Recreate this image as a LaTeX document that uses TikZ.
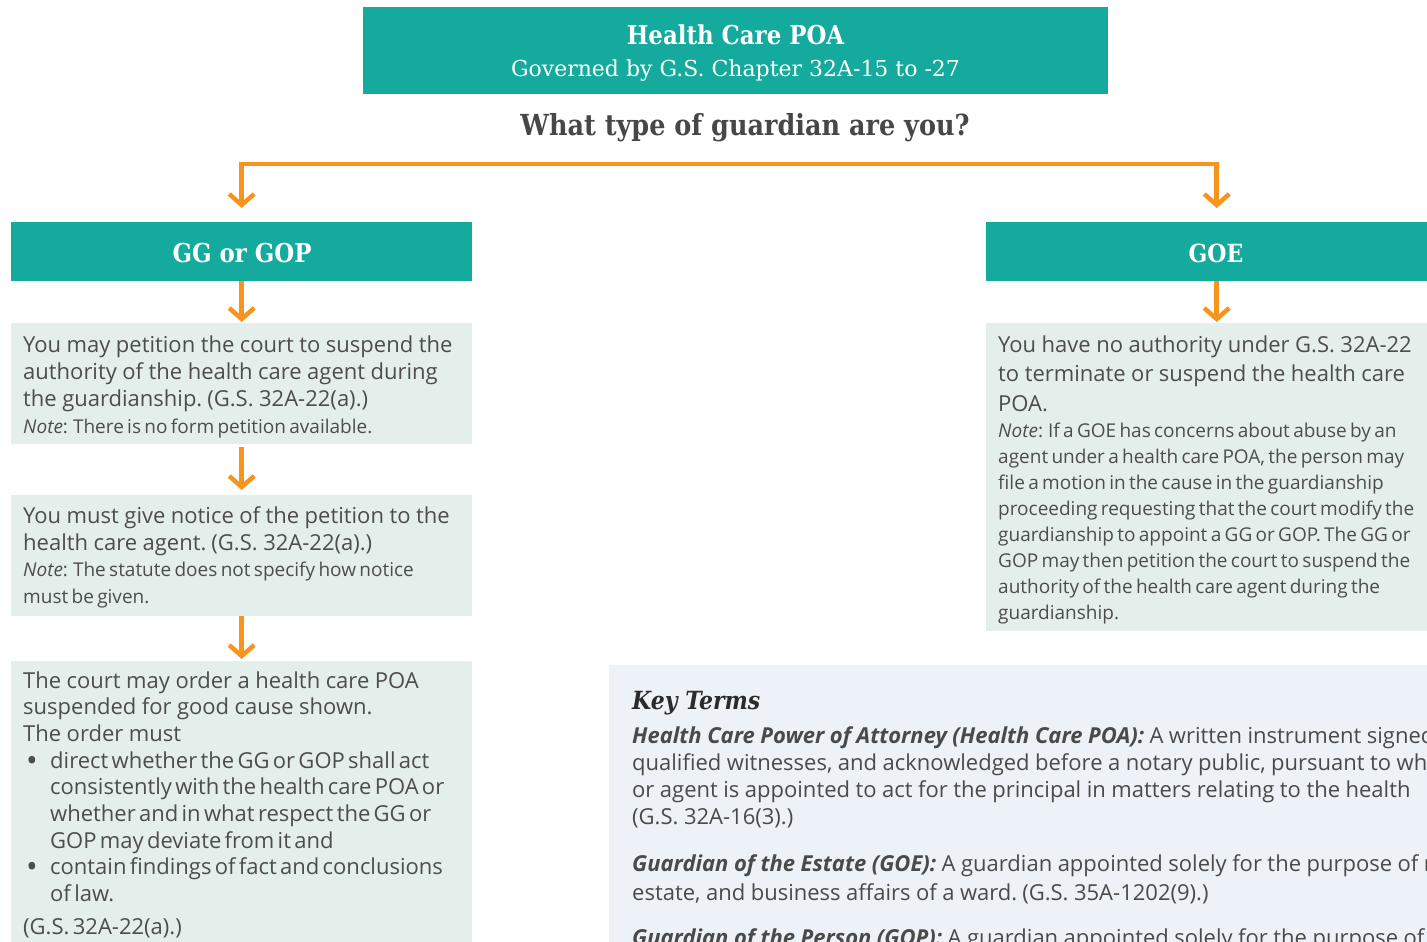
\documentclass[tikz,border=0pt]{standalone}
\usepackage{fontspec}
\setmainfont{Open Sans}
\newfontfamily\slab[FakeStretch=0.88]{DejaVu Serif}
\newfontfamily\slabreg{DejaVu Serif}
\newfontfamily\notefont{Open Sans}
\usetikzlibrary{arrows.meta}
\setlength\parindent{0pt}
\definecolor{tealhdr}{HTML}{15AA9E}
\definecolor{orng}{HTML}{F7941D}
\definecolor{boxbg}{HTML}{E4EFEC}
\definecolor{keybg}{HTML}{EDF1F8}
\definecolor{txt}{HTML}{4D4D4D}
\definecolor{qtxt}{HTML}{474747}
\definecolor{keytxt}{HTML}{4A4A4A}
\definecolor{keyhd}{HTML}{2B2B2B}
\newcommand{\wide}{\spaceskip=0.25em\relax}
\newcommand{\bigbul}{\makebox[27pt][l]{\hspace{3pt}\raisebox{-3pt}{\fontsize{31}{26.7}\selectfont •}}}
\tikzset{
  hdr/.style={fill=tealhdr, inner sep=0pt, anchor=north west},
  pale/.style={fill=boxbg, inner sep=0pt, anchor=north west},
  keybox/.style={fill=keybg, inner sep=0pt, anchor=north west},
  hdrtext/.style={text=white, inner sep=0pt, anchor=base},
  body/.style={anchor=base west, inner sep=0pt, align=left, text=txt, text width=445pt},
  keytext/.style={anchor=base west, inner sep=0pt, align=left, text=keytxt, text width=1000pt},
  arr/.style={draw=orng, line width=4.5pt, -{Straight Barb[length=11pt,width=25pt,line width=4.5pt]}},
}
\begin{document}
\begin{tikzpicture}[x=1pt,y=-1pt]
\useasboundingbox (0,0) rectangle (1427,942);
\clip (0,0) rectangle (1427,942);
\fill[white] (0,0) rectangle (1427,942);
% boxes
\node[hdr, minimum width=745pt, minimum height=87pt] (top) at (363,7) {};
\node[hdr, minimum width=461pt, minimum height=59pt] (gg) at (11,222) {};
\node[hdr, minimum width=461pt, minimum height=59pt] (goe) at (986,222) {};
\node[pale, minimum width=461pt, minimum height=121pt] (b1) at (11,323) {};
\node[pale, minimum width=461pt, minimum height=121pt] (b2) at (11,495) {};
\node[pale, minimum width=461pt, minimum height=300pt] (b3) at (11,661) {};
\node[pale, minimum width=461pt, minimum height=308pt] (g1) at (986,323) {};
\node[keybox, minimum width=830pt, minimum height=300pt] (kb) at (609,665) {};
% header texts
\node[hdrtext] (t1) at (735.5,45) {\slab\bfseries\fontsize{26}{30}\selectfont Health Care POA};
\node[hdrtext] (t2) at (735.5,77) {\slabreg\fontsize{22}{26}\selectfont Governed by G.S. Chapter 32A-15 to -27};
\node[anchor=base, inner sep=0pt, text=qtxt] (q) at (745,135) {\slab\bfseries\fontsize{29}{34}\selectfont What type of guardian are you?};
\node[hdrtext] (ggt) at (242,262) {\slab\bfseries\fontsize{26}{30}\selectfont GG or GOP};
\node[hdrtext] (goet) at (1216,262) {\slab\bfseries\fontsize{25}{30}\selectfont GOE};
% connectors
\coordinate (fork) at (728,164);
\draw[arr, shorten >=14pt] (fork) -| (gg.north);
\draw[arr, shorten >=14pt] (fork) -| (goe.north);
\draw[arr, shorten >=1pt] (gg.south) -- (b1.north);
\draw[arr, shorten <=3pt, shorten >=5pt] (b1.south) -- (b2.north);
\draw[arr, shorten >=2pt] (b2.south) -- (b3.north);
\draw[arr, shorten >=1pt] (goe.south) -- (g1.north);
% body texts
\node[body] (b1t) at (23,352) {\fontsize{22}{27}\selectfont {\wide You may petition the court to suspend the\\ authority of the health care agent during\\ the guardianship. (G.S. 32A-22(a).)}\\ {\notefont\fontsize{19}{27}\selectfont\textit{Note}: There is no form petition available.}\par};
\node[body] (b2t) at (23,523) {\fontsize{22}{27}\selectfont {\wide You must give notice of the petition to the\\ health care agent. (G.S. 32A-22(a).)}\par {\notefont\fontsize{19}{26.5}\selectfont\textit{Note}: The statute does not specify how notice\\ must be given.\par}};
\node[body] (b3t) at (23,688) {\fontsize{22}{26.7}\selectfont {\wide The court may order a health care POA\\ suspended for good cause shown.\\ The order must}\\
\bigbul direct whether the GG or GOP shall act\\
\hspace*{27pt}consistently with the health care POA or\\
\hspace*{27pt}whether and in what respect the GG or\\
\hspace*{27pt}GOP may deviate from it and\\
\bigbul contain findings of fact and conclusions\\
\hspace*{27pt}of law.\par
\vspace{6pt}(G.S. 32A-22(a).)\par};
\node[body] (g1t) at (998,352) {{\fontsize{22}{29.5}\selectfont\wide You have no authority under G.S. 32A-22\\ to terminate or suspend the health care\\ POA.\par}{\notefont\fontsize{19}{26}\selectfont\textit{Note}: If a GOE has concerns about abuse by an\\ agent under a health care POA, the person may\\ file a motion in the cause in the guardianship\\ proceeding requesting that the court modify the\\ guardianship to appoint a GG or GOP. The GG or\\ GOP may then petition the court to suspend the\\ authority of the health care agent during the\\ guardianship.\par}};
% key terms
\node[anchor=base west, inner sep=0pt, text=keyhd] (kh) at (632,709) {\slab\bfseries\itshape\fontsize{25}{30}\selectfont Key Terms};
\node[keytext] (k1) at (632,743) {\fontsize{22}{27}\selectfont\wide\textbf{\textit{Health Care Power of Attorney (Health Care POA):}} A written instrument signed\\ qualified witnesses, and acknowledged before a notary public, pursuant to which\\ or agent is appointed to act for the principal in matters relating to the health\\ (G.S. 32A-16(3).)\par};
\node[keytext] (k2) at (632,871) {\fontsize{22}{29.7}\selectfont\wide\textbf{\textit{Guardian of the Estate (GOE):}} A guardian appointed solely for the purpose of managing\\ estate, and business affairs of a ward. (G.S. 35A-1202(9).)\par};
\node[keytext] (k3) at (632,945) {\fontsize{22}{27}\selectfont\wide\textbf{\textit{Guardian of the Person (GOP):}} A guardian appointed solely for the purpose of performing\par};
\end{tikzpicture}
\end{document}
